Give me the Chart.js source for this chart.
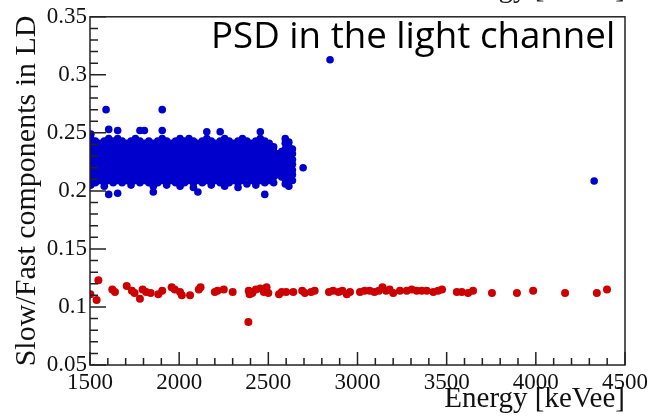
<!DOCTYPE html>
<html>
<head>
<meta charset="utf-8">
<script src="https://cdn.jsdelivr.net/npm/chart.js@4/dist/chart.umd.min.js"></script>
<style>
    body { margin: 0; background: #fff; }
    #wrap { width: 652px; height: 417px; }
</style>
</head>
<body>
<div id="wrap"><canvas id="psdChart" width="652" height="417"></canvas></div>
<script>
// axis ranges
const xRange = [1500, 4500];
const yRange = [0.05, 0.35];

// blue band (gamma events), read column by column: energy -> list of PSD values
const blueBandEnergy = [1505, 1530, 1555, 1580, 1605, 1630, 1655, 1680, 1705, 1730, 1755, 1780, 1805, 1830,
    1855, 1880, 1905, 1930, 1955, 1980, 2005, 2030, 2055, 2080, 2105, 2130, 2155, 2180, 2205, 2230,
    2255, 2280, 2305, 2330, 2355, 2380, 2405, 2430, 2455, 2480, 2505, 2530, 2555, 2575, 2595, 2615, 2635];
const blueBandPsd = [
    [0.205, 0.209, 0.214, 0.218, 0.223, 0.227, 0.232, 0.236, 0.241, 0.245, 0.249],
    [0.207, 0.212, 0.216, 0.221, 0.225, 0.229, 0.234, 0.238, 0.243],
    [0.209, 0.214, 0.218, 0.223, 0.227, 0.232, 0.236, 0.241],
    [0.204, 0.207, 0.212, 0.216, 0.221, 0.225, 0.229, 0.234, 0.238, 0.243],
    [0.197, 0.209, 0.214, 0.218, 0.223, 0.227, 0.232, 0.236, 0.241, 0.245, 0.253],
    [0.207, 0.212, 0.216, 0.221, 0.225, 0.229, 0.234, 0.238, 0.243],
    [0.198, 0.209, 0.214, 0.218, 0.223, 0.227, 0.232, 0.236, 0.241, 0.245, 0.252],
    [0.207, 0.212, 0.216, 0.221, 0.225, 0.229, 0.234, 0.238, 0.243],
    [0.209, 0.214, 0.218, 0.223, 0.227, 0.232, 0.236, 0.241],
    [0.205, 0.207, 0.212, 0.216, 0.221, 0.225, 0.229, 0.234, 0.238, 0.243],
    [0.209, 0.214, 0.218, 0.223, 0.227, 0.232, 0.236, 0.241, 0.245],
    [0.207, 0.212, 0.216, 0.221, 0.225, 0.229, 0.234, 0.238, 0.243, 0.252],
    [0.209, 0.214, 0.218, 0.223, 0.227, 0.232, 0.236, 0.241, 0.252],
    [0.207, 0.212, 0.216, 0.221, 0.225, 0.229, 0.234, 0.238, 0.243],
    [0.199, 0.204, 0.209, 0.214, 0.218, 0.223, 0.227, 0.232, 0.236, 0.241],
    [0.207, 0.212, 0.216, 0.221, 0.225, 0.229, 0.234, 0.238, 0.243],
    [0.209, 0.214, 0.218, 0.223, 0.227, 0.232, 0.236, 0.241, 0.245, 0.252],
    [0.205, 0.207, 0.212, 0.216, 0.221, 0.225, 0.229, 0.234, 0.238, 0.243],
    [0.209, 0.214, 0.218, 0.223, 0.227, 0.232, 0.236, 0.241],
    [0.207, 0.212, 0.216, 0.221, 0.225, 0.229, 0.234, 0.238, 0.243],
    [0.204, 0.209, 0.214, 0.218, 0.223, 0.227, 0.232, 0.236, 0.241, 0.245],
    [0.207, 0.212, 0.216, 0.221, 0.225, 0.229, 0.234, 0.238, 0.243],
    [0.209, 0.214, 0.218, 0.223, 0.227, 0.232, 0.236, 0.241, 0.245],
    [0.203, 0.207, 0.212, 0.216, 0.221, 0.225, 0.229, 0.234, 0.238, 0.243],
    [0.199, 0.209, 0.214, 0.218, 0.223, 0.227, 0.232, 0.236, 0.241],
    [0.207, 0.212, 0.216, 0.221, 0.225, 0.229, 0.234, 0.238, 0.243],
    [0.209, 0.214, 0.218, 0.223, 0.227, 0.232, 0.236, 0.241, 0.245, 0.251],
    [0.205, 0.207, 0.212, 0.216, 0.221, 0.225, 0.229, 0.234, 0.238, 0.243],
    [0.209, 0.214, 0.218, 0.223, 0.227, 0.232, 0.236, 0.241],
    [0.207, 0.212, 0.216, 0.221, 0.225, 0.229, 0.234, 0.238, 0.243, 0.251],
    [0.204, 0.209, 0.214, 0.218, 0.223, 0.227, 0.232, 0.236, 0.241, 0.245],
    [0.207, 0.212, 0.216, 0.221, 0.225, 0.229, 0.234, 0.238, 0.243],
    [0.209, 0.214, 0.218, 0.223, 0.227, 0.232, 0.236, 0.241],
    [0.203, 0.207, 0.212, 0.216, 0.221, 0.225, 0.229, 0.234, 0.238, 0.243],
    [0.209, 0.214, 0.218, 0.223, 0.227, 0.232, 0.236, 0.241, 0.245],
    [0.206, 0.212, 0.216, 0.221, 0.225, 0.229, 0.234, 0.238, 0.243],
    [0.209, 0.214, 0.218, 0.223, 0.227, 0.232, 0.236, 0.241],
    [0.205, 0.207, 0.212, 0.216, 0.221, 0.225, 0.229, 0.234, 0.238, 0.243],
    [0.209, 0.214, 0.218, 0.223, 0.227, 0.232, 0.236, 0.241, 0.245, 0.251],
    [0.197, 0.207, 0.212, 0.216, 0.221, 0.225, 0.229, 0.234, 0.238, 0.243],
    [0.209, 0.214, 0.218, 0.223, 0.227, 0.232, 0.236, 0.241],
    [0.207, 0.212, 0.216, 0.221, 0.225, 0.229, 0.234, 0.238],
    [0.214, 0.218, 0.223, 0.227, 0.232],
    [0.212, 0.216, 0.221, 0.225, 0.229, 0.234],
    [0.206, 0.210, 0.214, 0.218, 0.223, 0.227, 0.232, 0.236, 0.241, 0.245],
    [0.204, 0.208, 0.212, 0.216, 0.221, 0.225, 0.229, 0.234, 0.238, 0.242],
    [0.209, 0.214, 0.218, 0.223, 0.227, 0.232, 0.236]
];
// isolated blue events [energy, psd]
const blueStray = [[1590, 0.270], [1905, 0.270], [2846, 0.313], [2695, 0.220], [4327, 0.2085]];

// red band (alpha-like events) [energy, psd]
const redPoints = [
    [1502, 0.111], [1547, 0.123], [1537, 0.106], [1625, 0.115], [1640, 0.113], [1706, 0.118], [1735, 0.114],
    [1750, 0.112], [1780, 0.107], [1795, 0.115], [1815, 0.113], [1840, 0.112], [1883, 0.111], [1905, 0.114],
    [1958, 0.117], [1975, 0.115], [2005, 0.113], [2015, 0.110], [2061, 0.110], [2110, 0.115], [2120, 0.117],
    [2200, 0.113], [2215, 0.114], [2250, 0.115], [2300, 0.113], [2388, 0.087], [2390, 0.114], [2395, 0.111],
    [2410, 0.112], [2430, 0.115], [2455, 0.116], [2475, 0.113], [2490, 0.117], [2500, 0.112], [2560, 0.111],
    [2575, 0.113], [2600, 0.113], [2640, 0.113], [2690, 0.114], [2705, 0.112], [2740, 0.113], [2760, 0.114],
    [2840, 0.113], [2863, 0.114], [2893, 0.113], [2915, 0.114], [2940, 0.111], [2958, 0.113], [3014, 0.113],
    [3040, 0.114], [3068, 0.114], [3095, 0.113], [3120, 0.114], [3140, 0.117], [3160, 0.114], [3180, 0.115],
    [3200, 0.112], [3238, 0.114], [3276, 0.114], [3304, 0.115], [3332, 0.114], [3360, 0.114], [3388, 0.114],
    [3425, 0.113], [3452, 0.114], [3474, 0.115], [3557, 0.113], [3585, 0.113], [3620, 0.112], [3648, 0.114],
    [3754, 0.112], [3894, 0.112], [3985, 0.114], [4164, 0.112], [4342, 0.112], [4399, 0.115]
];

const titleText = 'PSD in the light channel';
const xTitle = 'Energy [keVee]';
const yTitle = 'Slow/Fast components in LD';

const blueData = [];
blueBandEnergy.forEach((e, i) => blueBandPsd[i].forEach(v => blueData.push({ x: e, y: v })));
blueStray.forEach(p => blueData.push({ x: p[0], y: p[1] }));
const redData = redPoints.map(p => ({ x: p[0], y: p[1] }));

// ROOT-style frame with ticks pointing inwards, plus the text overlay
const frameTicks = {
    id: 'frameTicks',
    afterDatasetsDraw(chart) {
        const { ctx, chartArea: a, scales: { x, y } } = chart;
        ctx.save();
        ctx.strokeStyle = '#222';
        ctx.lineWidth = 1.5;
        ctx.strokeRect(a.left, a.top, a.right - a.left, a.bottom - a.top);

        ctx.beginPath();
        for (let i = 0; i <= 30; i++) {
            const px = x.getPixelForValue(xRange[0] + i * 100);
            const len = i % 5 === 0 ? 13 : 7;
            ctx.moveTo(px, a.bottom);
            ctx.lineTo(px, a.bottom - len);
        }
        for (let i = 0; i <= 30; i++) {
            const py = y.getPixelForValue(yRange[0] + i * 0.01);
            const len = i % 5 === 0 ? 16 : 8;
            ctx.moveTo(a.left, py);
            ctx.lineTo(a.left + len, py);
        }
        ctx.stroke();

        ctx.fillStyle = '#000';
        ctx.font = '36.7px "Open Sans"';
        ctx.textAlign = 'left';
        ctx.textBaseline = 'alphabetic';
        ctx.fillText(titleText, 211, 48);

        // edge of the axis title of the figure above, cut by the crop
        ctx.fillStyle = '#222';
        ctx.font = '29px "Liberation Serif"';
        ctx.textAlign = 'right';
        ctx.fillText(xTitle, 625, -3);
        ctx.restore();
    }
};

const serif = '"Liberation Serif", "Times New Roman", serif';

new Chart(document.getElementById('psdChart'), {
    type: 'scatter',
    data: {
        datasets: [
            { data: blueData, backgroundColor: '#0000cc', pointRadius: 3.8, borderWidth: 0 },
            { data: redData, backgroundColor: '#cc0000', pointRadius: 4, borderWidth: 0 }
        ]
    },
    options: {
        responsive: false,
        animation: false,
        events: [],
        layout: { padding: { top: 15, right: 27, left: 0, bottom: 0 } },
        plugins: { legend: { display: false }, tooltip: { enabled: false } },
        scales: {
            x: {
                type: 'linear',
                min: xRange[0],
                max: xRange[1],
                afterFit: s => { s.height = 52; },
                grid: { display: false, drawTicks: false },
                border: { display: false },
                ticks: {
                    stepSize: 500,
                    padding: 4,
                    color: '#111',
                    font: { family: serif, size: 23 },
                    maxRotation: 0,
                    callback: v => String(v)
                },
                title: {
                    display: true,
                    text: xTitle,
                    align: 'end',
                    color: '#111',
                    font: { family: serif, size: 29 },
                    padding: { top: 0, bottom: 0 }
                }
            },
            y: {
                type: 'linear',
                min: yRange[0],
                max: yRange[1],
                afterFit: s => { s.width = 90; },
                grid: { display: false, drawTicks: false },
                border: { display: false },
                ticks: {
                    stepSize: 0.05,
                    padding: 3,
                    color: '#111',
                    font: { family: serif, size: 23 },
                    callback: v => String(parseFloat(v.toFixed(2)))
                },
                title: {
                    display: true,
                    text: yTitle,
                    color: '#111',
                    font: { family: serif, size: 30 },
                    padding: { top: 9, bottom: 0 }
                }
            }
        }
    },
    plugins: [frameTicks]
});
</script>
</body>
</html>
